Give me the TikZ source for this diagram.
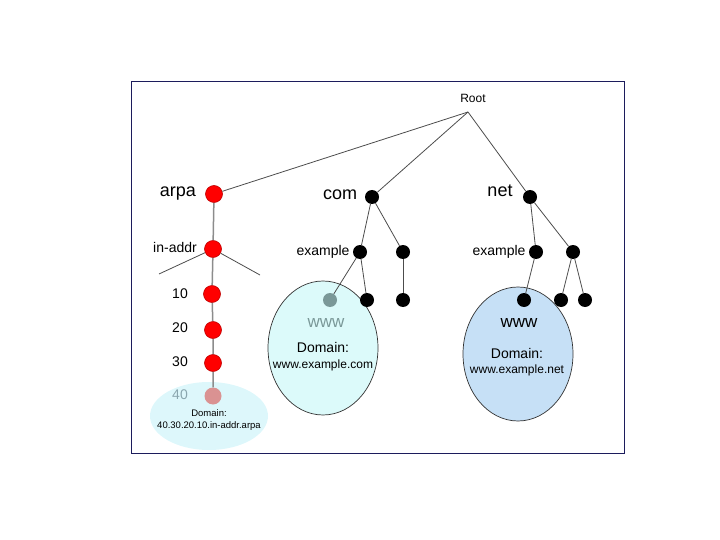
\documentclass[tikz,border=0pt]{standalone}
\usepackage{fontspec}
\setmainfont{Liberation Sans}
\definecolor{arpafill}{HTML}{DDF7FB}
\definecolor{comfill}{HTML}{DCFAFA}
\definecolor{netfill}{HTML}{C6E0F6}
\definecolor{wwwgray}{HTML}{7A9898}
\definecolor{fortygray}{HTML}{8AA6AE}
\definecolor{fortyred}{HTML}{DA9292}
\definecolor{framenavy}{HTML}{1C1C5C}

\begin{document}
\begin{tikzpicture}[x=1pt,y=-1pt,
  reddot/.style={circle,fill=red,draw=red!75!black,line width=0.6pt,minimum size=17pt,inner sep=0pt},
  blackdot/.style={circle,fill=black,minimum size=14pt,inner sep=0pt},
  edge/.style={draw=black!70,line width=0.8pt},
  stem/.style={draw=black!45,line width=1.5pt},
  big/.style={font=\fontsize{18}{20}\selectfont},
  mid/.style={font=\fontsize{14}{16}\selectfont},
  small/.style={font=\fontsize{12}{14}\selectfont}]
\useasboundingbox (0,0) rectangle (720,540);

        % Frame
        \draw[framenavy,line width=1pt] (131,82) rectangle (624,453);

        % Domain areas
        \fill[arpafill] (209,416) ellipse [x radius=59pt,y radius=34pt];
        \filldraw[fill=comfill,draw=black!80,line width=0.7pt] (323,348) ellipse [x radius=55pt,y radius=67pt];
        \filldraw[fill=netfill,draw=black!80,line width=0.7pt] (518,354) ellipse [x radius=55pt,y radius=67pt];

        % Root
        \node[small] (rootlbl) at (473,98) {Root};
        \coordinate (root) at (468,112);

        % arpa branch
        \node[reddot] (arpa) at (214,194) {};
        \node[reddot] (inaddr) at (213,249) {};
        \node[reddot] (n10) at (212,294) {};
        \node[reddot] (n20) at (213,330) {};
        \node[reddot] (n30) at (213,363) {};
        \node[circle,fill=fortyred,minimum size=17pt,inner sep=0pt] (n40) at (213,396) {};
        \coordinate (inaddrl) at (159,274);
        \coordinate (inaddrr) at (260,275);

        \node[big] (arpalbl) at (178,194) {arpa};
        \node[mid] (inaddrlbl) at (175,247) {in-addr};
        \node[mid] (n10lbl) at (180,294) {10};
        \node[mid] (n20lbl) at (180,328) {20};
        \node[mid] (n30lbl) at (180,362) {30};
        \node[mid,text=fortygray] (n40lbl) at (180,395) {40};
        \node[font=\fontsize{9.5}{12}\selectfont,align=center] (arpadom) at (209,420) {Domain:\\40.30.20.10.in-addr.arpa};

        % com branch
        \node[blackdot] (com) at (372,197) {};
        \node[blackdot] (comex) at (360,252) {};
        \node[blackdot] (comb) at (403,252) {};
        \node[circle,fill=wwwgray,minimum size=14pt,inner sep=0pt] (comwww) at (330,300) {};
        \node[blackdot] (comexb) at (367,300) {};
        \node[blackdot] (combb) at (403,300) {};

        \node[big] (comlbl) at (340,195) {com};
        \node[mid] (comexlbl) at (323,252) {example};
        \node[font=\fontsize{17}{19}\selectfont,text=wwwgray] (comwwwlbl) at (326,323) {www};
        \node[mid] (comdomlbl) at (323,347) {Domain:};
        \node[small] (comdom) at (323,365) {www.example.com};

        % net branch
        \node[blackdot] (net) at (530,197) {};
        \node[blackdot] (netex) at (536,252) {};
        \node[blackdot] (netb) at (573,252) {};
        \node[blackdot] (netwww) at (524,300) {};
        \node[blackdot] (netbl) at (561,300) {};
        \node[blackdot] (netbr) at (585,300) {};

        \node[big] (netlbl) at (500,191) {net};
        \node[mid] (netexlbl) at (499,252) {example};
        \node[font=\fontsize{17}{19}\selectfont] (netwwwlbl) at (519,323) {www};
        \node[mid] (netdomlbl) at (517,353) {Domain:};
        \node[small] (netdom) at (517,370) {www.example.net};

        % Edges
        \draw[edge] (root) -- (arpa);
        \draw[edge] (root) -- (com);
        \draw[edge] (root) -- (net);
        \draw[stem] (arpa) -- (inaddr) -- (n10) -- (n20) -- (n30) -- (n40);
        \draw[edge] (inaddr) -- (inaddrl);
        \draw[edge] (inaddr) -- (inaddrr);
        \draw[edge] (com) -- (comex);
        \draw[edge] (com) -- (comb);
        \draw[edge] (comex) -- (comwww);
        \draw[edge] (comex) -- (comexb);
        \draw[edge] (comb) -- (combb);
        \draw[edge] (net) -- (netex);
        \draw[edge] (net) -- (netb);
        \draw[edge] (netex) -- (netwww);
        \draw[edge] (netb) -- (netbl);
        \draw[edge] (netb) -- (netbr);
\end{tikzpicture}
\end{document}
